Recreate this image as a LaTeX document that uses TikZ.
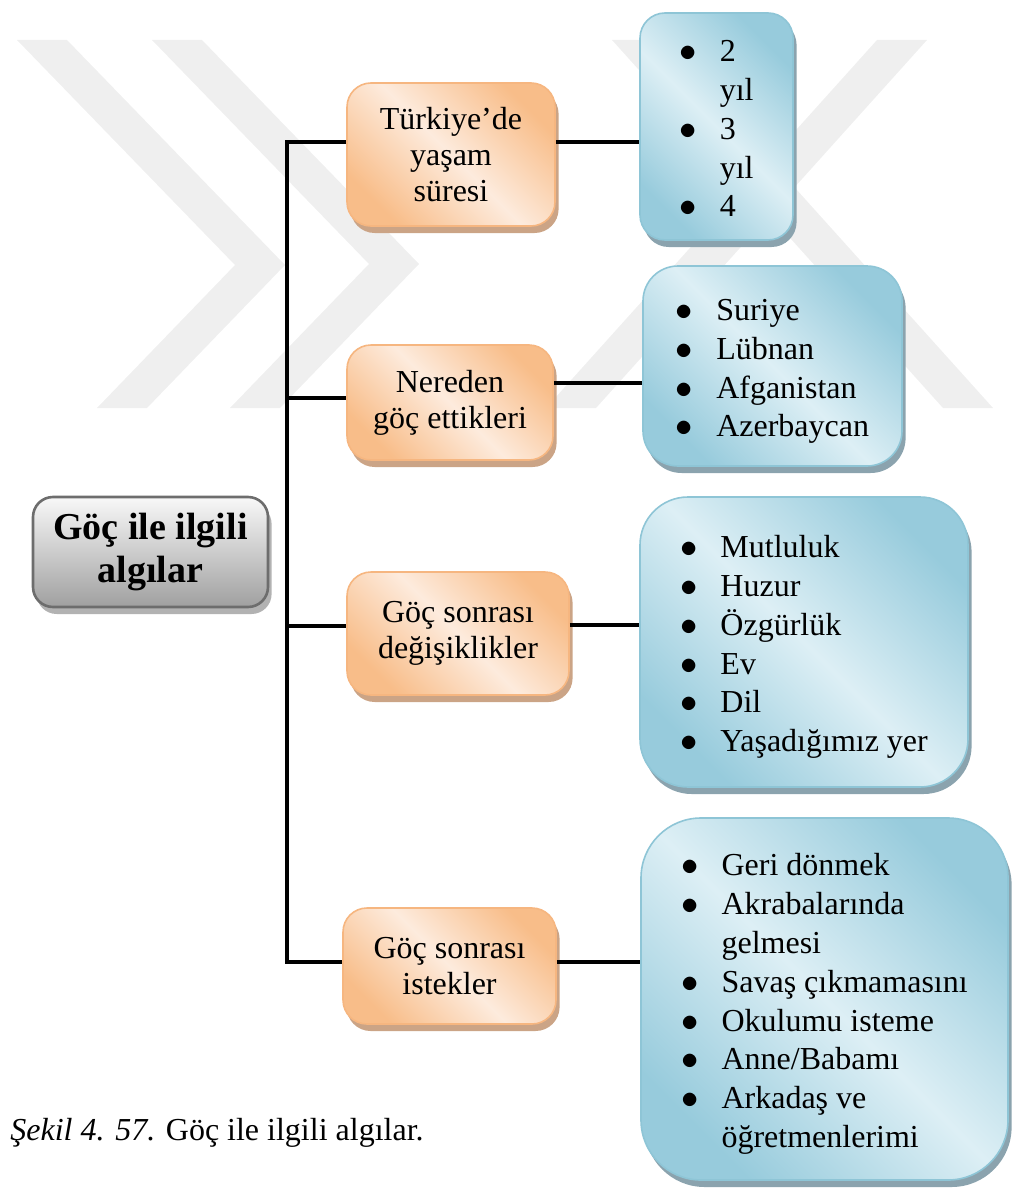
\documentclass[tikz,border=0pt]{standalone}
\usepackage{fontspec}
\setmainfont{Liberation Serif}
\usetikzlibrary{shadows}
\definecolor{peachdk}{HTML}{F8BD89}
\definecolor{peachlt}{HTML}{FDEBDD}
\definecolor{peachline}{HTML}{F6B680}
\definecolor{peachshadow}{HTML}{CBA486}
\definecolor{aquadk}{HTML}{97CBDC}
\definecolor{aqualt}{HTML}{DDEFF5}
\definecolor{aqualine}{HTML}{8EC5D6}
\definecolor{aquashadow}{HTML}{8BA3AE}
\definecolor{greylt}{HTML}{F8F8F8}
\definecolor{greydk}{HTML}{A0A0A0}
\definecolor{greyline}{HTML}{6D6D6D}
\definecolor{wmark}{HTML}{EFEFEF}

\tikzset{
  link/.style={draw=black, line width=2.2pt},
  topic/.style={font=\fontsize{16}{18}\selectfont, align=center, inner sep=0pt,
    rounded corners=12pt, draw=peachline, line width=0.8pt,
    left color=peachdk, right color=peachdk, middle color=peachlt, shading angle=135,
    drop shadow={shadow xshift=1.8pt, shadow yshift=-3.5pt, fill=peachshadow, opacity=1}},
  answer/.style={font=\fontsize{16}{19.4}\selectfont, inner sep=0pt,
    draw=aqualine, line width=0.8pt,
    left color=aquadk, right color=aquadk, middle color=aqualt, shading angle=135,
    drop shadow={shadow xshift=1.8pt, shadow yshift=-3.5pt, fill=aquashadow, opacity=1}},
  rootbox/.style={font=\fontsize{19}{21.5}\selectfont\bfseries, align=center, inner sep=0pt,
    rounded corners=10pt, draw=greyline, line width=1.3pt,
    top color=greylt, bottom color=greydk,
    drop shadow={shadow xshift=1.8pt, shadow yshift=-3.5pt, fill=black!30, opacity=1}},
  caption/.style={font=\fontsize{16}{19}\selectfont, inner sep=0pt}
}

\newcommand{\dotmark}{$\bullet$}
\newcommand{\itemlist}[1]{\raisebox{0pt}[\dimexpr\height+5pt\relax]{\begin{tabular}{@{}l@{\hspace{11.5pt}}l@{}}#1\end{tabular}}}

\begin{document}
\begin{tikzpicture}[x=0.5pt, y=-0.5pt]

\useasboundingbox (0,0) rectangle (1013,1193);

% Watermark
\fill[wmark] (17,40) -- (67,40) -- (285,265) -- (147,408) -- (97,408) -- (235,265) -- cycle;
\fill[wmark] (152,40) -- (202,40) -- (419,264) -- (280,408) -- (230,408) -- (369,264) -- cycle;
\fill[wmark] (877,40) -- (927,40) -- (596,408) -- (546,408) -- cycle;
\fill[wmark] (612,40) -- (662,40) -- (993,408) -- (943,408) -- cycle;

% =========== ROOT ===========
\node[rootbox, minimum width=117.5pt, minimum height=55pt] (root) at (150.5,552) {Göç ile ilgili\\algılar};

% =========== TOPICS ===========
\node[topic, minimum width=104pt, minimum height=71.5pt] (time) at (451,154.5) {Türkiye’de\\yaşam\\süresi};
\node[topic, minimum width=103pt, minimum height=57.5pt] (origin) at (450,402.5) {Nereden\\göç ettikleri};
\node[topic, minimum width=111pt, minimum height=61.5pt] (change) at (458,633.5) {Göç sonrası\\değişiklikler};
\node[topic, minimum width=106.5pt, minimum height=58pt] (wish) at (449.5,966) {Göç sonrası\\istekler};

% =========== ANSWERS ===========
\node[answer, rounded corners=12.5pt, minimum width=76.5pt, minimum height=113.5pt] (timelist) at (716.5,126.5)
  {\itemlist{\dotmark & 2\\ & yıl\\ \dotmark & 3\\ & yıl\\ \dotmark & 4}};
\node[answer, rounded corners=17.5pt, minimum width=129.5pt, minimum height=100pt] (originlist) at (772.5,366)
  {\itemlist{\dotmark & Suriye\\ \dotmark & Lübnan\\ \dotmark & Afganistan\\ \dotmark & Azerbaycan}};
\node[answer, rounded corners=24pt, minimum width=164pt, minimum height=145pt] (changelist) at (804,642)
  {\itemlist{\dotmark & Mutluluk\\ \dotmark & Huzur\\ \dotmark & Özgürlük\\ \dotmark & Ev\\ \dotmark & Dil\\ \dotmark & Yaşadığımız yer}};
\node[answer, rounded corners=30pt, minimum width=183.5pt, minimum height=181pt] (wishlist) at (824.5,999)
  {\itemlist{\dotmark & Geri dönmek\\ \dotmark & Akrabalarında\\ & gelmesi\\ \dotmark & Savaş çıkmamasını\\ \dotmark & Okulumu isteme\\ \dotmark & Anne/Babamı\\ \dotmark & Arkadaş ve\\ & öğretmenlerimi}};

% =========== CONNECTORS ===========
\coordinate (spinetop) at (287,142);
\coordinate (spinebot) at (287,962);
\coordinate (j2) at (287,398);
\coordinate (j3) at (287,626);
\coordinate (r2) at (600,383);
\coordinate (r3) at (600,625);

\draw[link] (spinetop -| time.west) -- (spinetop) -- (spinebot) -- (spinebot -| wish.west);
\draw[link] (j2) -- (j2 -| origin.west);
\draw[link] (j3) -- (j3 -| change.west);

\draw[link] (time.east |- spinetop) -- (timelist.west |- spinetop);
\draw[link] (origin.east |- r2) -- (originlist.west |- r2);
\draw[link] (change.east |- r3) -- (changelist.west |- r3);
\draw[link] (wish.east |- spinebot) -- (wishlist.west |- spinebot);

% Caption
\node[caption, anchor=base west] (cap) at (10,1140) {\textit{Şekil 4. 57.} Göç ile ilgili algılar.};

\end{tikzpicture}
\end{document}
